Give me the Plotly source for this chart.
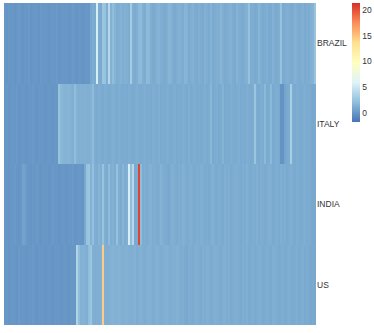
import plotly.graph_objects as go

countries = ["BRAZIL", "ITALY", "INDIA", "US"]

brazil = [
0.0,-0.1,0.1,0.0,0.1,-0.1,0.0,0.2,0.0,-0.1,
0.1,0.0,0.2,-0.1,0.0,0.1,0.0,-0.1,0.2,0.0,
0.1,0.0,-0.1,0.0,0.1,0.0,0.2,-0.1,0.0,0.1,
0.0,0.1,-0.1,0.0,0.2,0.0,-0.1,0.1,0.0,-0.1,
0.0,0.1,0.0,0.8,1.1,1.0,5.6,1.1,1.0,2.6,
2.4,1.2,4.0,1.4,2.0,1.6,1.1,1.3,1.5,1.2,
1.4,1.3,1.1,3.1,1.2,1.1,1.3,1.8,1.9,1.3,
1.1,1.9,1.8,1.2,1.0,1.1,1.4,1.5,1.2,1.1,
1.0,1.2,1.6,1.5,1.1,1.0,1.2,1.4,1.3,1.1,
1.6,1.5,1.0,1.2,1.4,1.1,1.0,1.3,1.1,1.0,
1.4,1.2,1.0,1.5,1.0,1.1,1.3,1.2,1.6,1.2,
1.0,1.1,1.3,1.4,1.1,1.0,1.5,1.2,1.1,1.0,
1.3,1.4,2.3,1.1,1.2,1.0,1.1,1.6,1.2,1.0,
1.1,1.3,1.0,1.0,1.4,1.1,1.0,1.2,2.3,1.0,
1.1,1.3,1.2,1.0,1.1,1.4,1.2,1.0,1.1,1.3,
1.0,1.2,1.1,1.4,1.5,2.5]

italy = [
0.0,0.1,-0.1,0.0,0.1,0.0,0.2,-0.1,0.0,0.1,
0.0,-0.1,0.1,0.0,0.2,0.0,-0.1,0.1,0.0,0.1,
-0.1,0.0,0.1,0.0,-0.1,0.1,0.0,2.4,1.8,1.6,
1.5,1.5,1.6,1.4,1.3,2.0,1.4,1.3,1.4,1.3,
1.4,1.3,1.3,1.4,1.9,1.1,1.0,1.2,1.1,1.0,
1.2,1.1,1.0,1.1,1.3,1.1,1.0,1.2,1.1,1.0,
1.1,1.0,1.2,1.1,1.0,1.1,1.3,1.1,1.0,1.1,
1.2,1.0,1.1,1.0,1.2,1.1,1.0,1.3,1.0,1.1,
1.0,1.2,1.1,1.0,1.1,1.2,1.0,1.1,1.0,1.2,
1.1,1.0,1.3,1.0,1.1,1.2,1.0,1.1,1.0,1.1,
1.2,1.0,1.1,1.7,1.0,1.1,1.2,1.0,1.1,1.5,
1.0,1.1,1.0,1.2,1.1,1.0,1.1,1.3,1.0,1.1,
1.0,1.2,1.1,1.0,1.1,2.6,1.1,1.0,1.2,1.1,
1.8,1.0,1.1,1.8,1.0,1.1,1.2,1.0,-0.2,-0.2,
0.7,1.0,1.1,3.2,1.1,1.0,1.2,1.1,1.0,1.1,
1.2,1.0,1.1,1.0,0.9,1.0]

india = [
0.1,0.0,-0.1,0.1,0.0,0.2,0.0,-0.1,0.1,0.6,
0.5,0.1,0.0,-0.1,0.1,0.0,0.2,0.0,-0.1,0.1,
0.0,0.1,-0.1,0.0,0.2,0.0,0.1,-0.1,0.0,0.1,
0.0,-0.1,0.1,0.0,0.2,-0.1,0.0,0.1,0.0,-0.1,
1.0,2.4,2.6,1.4,2.2,1.2,1.1,1.6,1.2,2.5,
1.3,1.0,2.0,1.2,1.4,1.1,2.3,1.2,1.0,1.6,
1.1,1.3,5.6,2.0,4.0,1.0,1.1,20.6,2.0,1.1,
1.2,1.0,1.3,1.4,1.1,1.2,1.0,1.1,1.5,1.2,
1.1,1.0,0.9,1.2,1.3,1.1,1.0,1.2,1.1,1.4,
1.2,1.0,1.1,1.3,1.1,1.0,1.2,1.1,1.3,1.2,
1.0,1.1,1.0,1.2,1.4,1.1,1.0,1.2,1.1,1.0,
1.3,1.1,1.2,1.0,1.1,1.2,1.3,1.1,1.0,1.2,
1.1,1.4,1.1,1.0,1.2,1.1,1.3,1.0,1.2,1.1,
1.0,1.1,1.3,1.2,1.0,1.1,1.2,1.0,1.3,1.1,
1.2,1.0,1.1,1.3,1.1,1.0,1.2,1.1,1.0,1.1,
1.2,1.0,1.1,1.0,0.9,0.9]

us = [
0.0,0.1,-0.1,0.0,0.1,0.0,-0.1,0.2,0.0,0.1,
0.0,-0.1,0.1,0.0,0.2,0.0,-0.1,0.1,0.0,0.1,
-0.1,0.0,0.1,0.0,-0.1,0.1,0.0,0.1,-0.1,0.0,
0.1,0.0,-0.1,0.1,0.0,0.0,3.6,2.0,1.4,1.5,
1.4,1.2,2.1,2.6,1.3,1.2,1.3,1.2,1.4,14.6,
1.3,1.2,1.3,1.4,1.5,1.4,1.4,1.5,1.4,1.2,
1.4,1.4,1.3,1.2,1.3,1.4,1.1,1.3,1.4,1.2,
1.1,1.3,1.4,1.3,1.1,1.2,1.4,1.2,1.1,1.2,
1.3,1.4,1.2,1.1,1.3,1.2,1.4,1.3,1.1,1.2,
1.0,0.9,1.2,1.1,1.0,1.2,1.3,1.1,1.0,1.2,
1.1,1.3,1.2,1.0,1.1,1.3,1.2,1.1,1.0,1.2,
1.3,1.1,1.2,1.0,1.1,1.3,1.2,1.1,1.0,1.2,
1.1,1.3,1.0,1.1,1.2,1.0,1.1,1.3,1.2,1.0,
1.1,1.2,1.1,1.0,1.3,1.2,1.1,1.0,1.1,1.2,
1.0,1.1,1.3,1.1,1.0,1.1,1.2,1.0,1.1,1.2,
1.0,1.1,1.0,0.9,1.0,0.9]

tick_values = [0, 5, 10, 15, 20]
palette = ["#4575B4", "#91BFDB", "#E0F3F8", "#FFFFBF", "#FEE090", "#FC8D59", "#D73027"]
font = "Liberation Sans, Arial, sans-serif"

fig = go.Figure(go.Heatmap(
    z=[brazil, italy, india, us],
    y=countries,
    zmin=-1.75,
    zmax=21.4,
    zsmooth=False,
    colorscale=[[i / 6, c] for i, c in enumerate(palette)],
    colorbar=dict(
        thickness=8, thicknessmode="pixels",
        len=119, lenmode="pixels",
        x=352 / 374, xanchor="left", xref="container",
        y=1 - 3 / 333, yanchor="top", yref="container",
        xpad=0, ypad=0,
        outlinewidth=0, borderwidth=0,
        ticks="", ticklen=0,
        tickvals=tick_values,
        tickfont=dict(size=8.5, color="#333333", family=font),
    ),
))
fig.update_layout(
    width=374, height=333,
    autosize=False,
    margin=dict(l=4, r=58, t=3, b=8),
    paper_bgcolor="white",
    plot_bgcolor="white",
    xaxis=dict(visible=False),
    yaxis=dict(
        side="right", autorange="reversed", ticks="", showgrid=False,
        showline=False, zeroline=False,
        tickfont=dict(size=8.5, color="#333333", family=font),
    ),
)
fig.write_html("out.html", post_script="document.body.style.margin='0';",
               config={"displayModeBar": False})
